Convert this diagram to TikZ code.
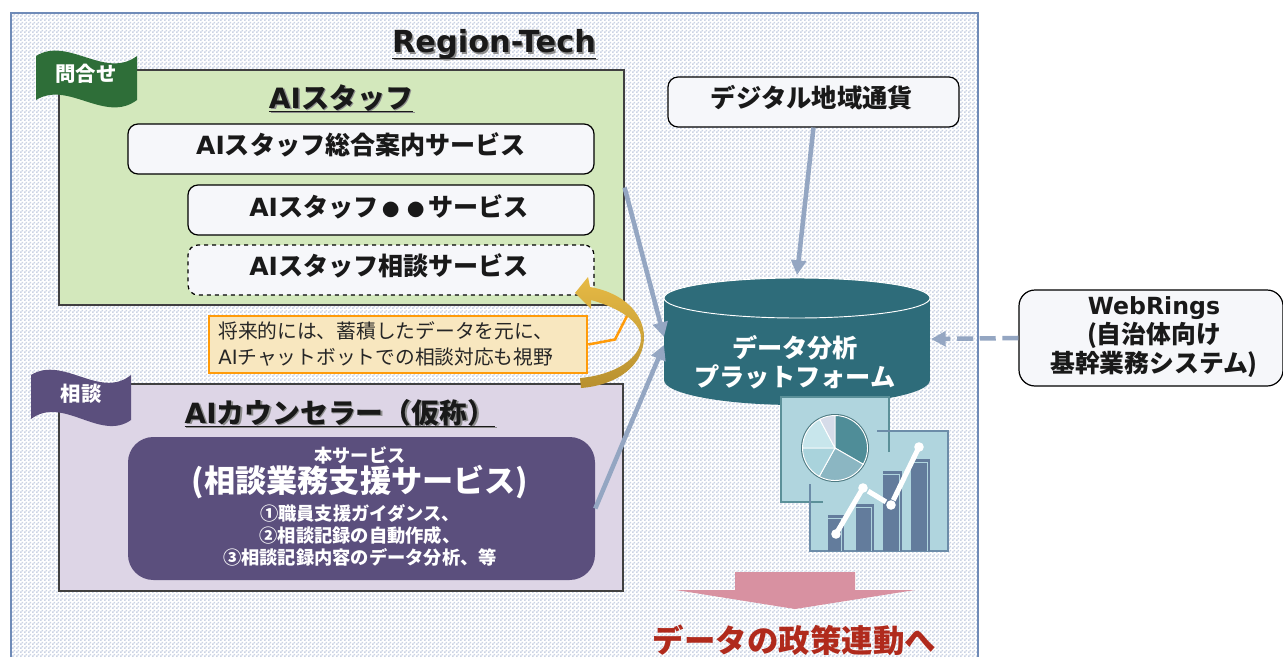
\documentclass[tikz,border=0pt]{standalone}
\usepackage{fontspec}
\setmainfont{Noto Sans CJK JP}
\newfontfamily\dv{DejaVu Sans}
\usetikzlibrary{fit,arrows.meta,patterns}
\newcommand\lt[1]{{\dv\bfseries #1}}
\newcommand\fs[1]{\fontsize{#1}{#1}\selectfont}
\newcommand\ul[1]{\underline{\raisebox{0pt}[\height][0.6pt]{#1}}}
\newcommand\smallbullet{\makebox[1em]{\fs{13}●}}
\definecolor{chk}{HTML}{CBD3E4}
\definecolor{outerl}{HTML}{6F8BB8}
\definecolor{greenbg}{HTML}{D3E8BC}
\definecolor{greenfl}{HTML}{2E6E38}
\definecolor{purpbg}{HTML}{DDD5E6}
\definecolor{purpdk}{HTML}{5B4F7D}
\definecolor{boxw}{HTML}{F6F7FA}
\definecolor{conn}{HTML}{94A6C2}
\definecolor{tealc}{HTML}{2E6C7A}
\definecolor{orng}{HTML}{FF9B0A}
\definecolor{calloutbg}{HTML}{F8E7BF}
\definecolor{panel}{HTML}{B0D5DE}
\definecolor{pborder}{HTML}{5B9099}
\definecolor{bborder}{HTML}{6C8CA8}
\definecolor{bar}{HTML}{637C9C}
\definecolor{pinkar}{HTML}{D891A1}
\definecolor{redt}{HTML}{B02A1C}
\definecolor{goldt}{HTML}{E6BA45}
\definecolor{goldb}{HTML}{B8902F}
\pgfdeclarepatternformonly{chkr}{\pgfpointorigin}{\pgfqpoint{3pt}{3pt}}{\pgfqpoint{3pt}{3pt}}{%
  \pgfpathrectangle{\pgfpointorigin}{\pgfqpoint{1.5pt}{1.5pt}}%
  \pgfpathrectangle{\pgfqpoint{1.5pt}{1.5pt}}{\pgfqpoint{1.5pt}{1.5pt}}%
  \pgfusepath{fill}}
\tikzset{
  wbox/.style={draw=black,line width=.9pt,fill=boxw,rounded corners=7.5pt,inner sep=0pt},
  panelbox/.style={draw=black!75,line width=.9pt,inner sep=0pt},
  txt/.style={inner sep=0pt,font=\bfseries\fs{#1},text=black!90,align=center},
  txt/.default=18.8,
  wtxt/.style={inner sep=0pt,font=\bfseries\fs{#1},text=white,align=center},
  shd/.style={text=black!45,xshift=1.2pt,yshift=-1.2pt},
  linkar/.style={draw=conn,line width=3.4pt,-{Triangle[length=11pt,width=11pt]}},
}
\begin{document}
\begin{tikzpicture}[x=.75pt,y=-.75pt]
\clip (0,0) rectangle (1283,657);
\fill[white] (0,0) rectangle (1283,657);
% outer
\fill[pattern=chkr,pattern color=chk] (11,13) rectangle (978,670);
\draw[outerl,line width=1.1pt] (11,13) rectangle (978,670);
\node[txt=22.8,shd] at (494,44) {\underline{\raisebox{0pt}[\height][2.6pt]{\lt{Region-Tech}}}};
\node[txt=22.8] (title) at (494,44) {\underline{\raisebox{0pt}[\height][2.6pt]{\lt{Region-Tech}}}};
% green panel
\node[panelbox,fill=greenbg,fit={(59,70) (624,305)}] (green) {};
\fill[greenfl] (36,56) .. controls (68,36) and (105,80) .. (137,56) -- (137,100) .. controls (105,124) and (68,80) .. (36,100) -- cycle;
\node[wtxt=15.3] (fl1) at (86,74) {問合せ};
\node[txt=21,shd] at (341,98) {\ul{\lt{AI}スタッフ}};
\node[txt=21] (t1) at (341,98) {\ul{\lt{AI}スタッフ}};
\node[wbox,fit={(128,124) (594,174)}] (b1) {};
\node[txt] at (361,145) {\lt{AI}スタッフ総合案内サービス};
\node[wbox,fit={(188,185) (594,235)}] (b2) {};
\node[txt] at (389,207) {\lt{AI}スタッフ\smallbullet\smallbullet サービス};
\node[wbox,dashed,fit={(188,245) (594,295)}] (b3) {};
\node[txt] at (389,266) {\lt{AI}スタッフ相談サービス};
% purple panel
\node[panelbox,fill=purpbg,fit={(59,384) (623,591)}] (purple) {};
\fill[purpdk] (31,375) .. controls (63,355) and (100,400) .. (131,375) -- (131,420) .. controls (100,442) and (63,395) .. (31,419) -- cycle;
\node[wtxt=15.3] (fl2) at (81,394) {相談};
\node[txt=20.9,shd] at (340,413) {\ul{\lt{AI}カウンセラー（仮称）}};
\node[txt=20.9] (t2) at (340,413) {\ul{\lt{AI}カウンセラー（仮称）}};
\node[draw=none,fill=purpdk,rounded corners=19pt,inner sep=0pt,fit={(128,437) (595,580)}] (dark) {};
\node[wtxt=13.6] at (360,455) {本サービス};
\node[wtxt=23.4] at (360,482) {(相談業務支援サービス)};
\node[wtxt=13.7,font=\bfseries\fontsize{13.7}{16.5}\selectfont] at (360,535) {①職員支援ガイダンス、\\②相談記録の自動作成、\\③相談記録内容のデータ分析、等};
% digital + webrings
\node[wbox,fit={(668,77) (959,127)}] (digi) {};
\node[txt=19] at (812,98) {デジタル地域通貨};
\node[wbox,fit={(1019,290) (1283,386)},rounded corners=12pt] (web) {};
\node[txt=18.6,font=\bfseries\fontsize{18.6}{22}\selectfont] at (1154,337) {{\dv\bfseries\fontsize{17.7}{22}\selectfont WebRings}\\(自治体向け\\基幹業務システム)};
% cylinder
\fill[tealc] (664,298) rectangle (930,380);
\fill[tealc] (797,380) ellipse [x radius=133,y radius=25];
\fill[tealc] (797,298) ellipse [x radius=133,y radius=20];
\draw[white,line width=.7pt] (797,298) ellipse [x radius=133,y radius=20];
\node[inner sep=0pt,fit={(664,278) (930,405)}] (cyl) {};
\node[wtxt=18.9,font=\bfseries\fontsize{18.9}{22}\selectfont] at (795,362) {データ分析\\プラットフォーム};
\coordinate (c1) at (664,337);
\coordinate (c2) at (664,345);
\coordinate (c3) at (797,275);
\coordinate (c4) at (931,339);
\draw[linkar] (green.east) -- (c1);
\draw[linkar] (dark.east) -- (c2);
\draw[linkar] (digi.south) -- (c3);
\draw[linkar,dash pattern=on 12pt off 5pt] (web.west) -- (c4);
% callout
\node[draw=orng,line width=2pt,fill=calloutbg,inner sep=0pt,fit={(209,316) (587,373)}] (call) {};
\node[inner sep=0pt,align=left,anchor=west,font=\fontsize{14.8}{19}\selectfont,text=black!85] at (218,344) {将来的には、蓄積したデータを元に、\\{\dv AI}チャットボットでの相談対応も視野};
\coordinate (lead) at (628,314);
\draw[orng,line width=1.9pt] (call.east) -- (615,339.5) -- (lead);
% gold arrow
\shade[top color=goldt,bottom color=goldb] (590,287) .. controls (625,293) and (644,315) .. (644,337) .. controls (644,365) and (618,385) .. (581,388) -- (580,378) .. controls (615,375) and (642,358) .. (641,337) .. controls (640,322) and (620,308) .. (591,300) -- (591,309) -- (575,293) -- (588,277) -- cycle;
% chart
\fill[panel] (781,397) rectangle (889,502);
\fill[panel] (810,431) rectangle (948,551);
\draw[pborder,line width=1.9pt] (889,452) -- (889,397) -- (781,397) -- (781,502) -- (823,502);
\draw[bborder,line width=1.9pt] (877,431) -- (948,431) -- (948,551) -- (810,551) -- (810,484);
\begin{scope}[shift={(835,448)},x=.75pt,y=.75pt]
  \fill[pborder!85!black] (0,0) circle (34);
  \foreach \a/\b/\c in {-30/90/4F8D98,-119/-30/8BB6C2,-180/-119/A9D3DC,118/180/C8E6EC,90/118/D6DCE9}{
    \definecolor{sl}{HTML}{\c}
    \filldraw[fill=sl,draw=white,line width=.7pt] (0,0) -- (\a:32.5) arc[start angle=\a,end angle=\b,radius=32.5] -- cycle;
  }
\end{scope}
\foreach \xa/\xb/\yt in {828/844/515,856/874/504,883/902/471,911/930/459}{
  \fill[bar] (\xa,\yt) rectangle (\xb,551);
  \draw[panel,line width=.7pt] (\xa,\yt+3) -- (\xb-3,\yt+3) -- (\xb-3,551);
}
\coordinate (p1) at (836,534);
\coordinate (p2) at (863,488);
\coordinate (p3) at (891,505);
\coordinate (p4) at (919,447);
\draw[white,line width=3.8pt,shorten <=2pt,shorten >=2.5pt] (p1) -- (p2);
\draw[white,line width=3.8pt,shorten <=4.5pt,shorten >=4.5pt] (p2) -- (p3);
\draw[white,line width=3.8pt,shorten <=4pt,shorten >=2.5pt] (p3) -- (p4);
\foreach \p in {p1,p2,p3,p4}{\fill[white] (\p) circle (4.8);}
% bottom arrow
\fill[pinkar] (735,572) -- (855,572) -- (855,590) -- (915,590) -- (795,609) -- (676,590) -- (735,590) -- cycle;
\node[inner sep=0pt,font=\bfseries\fs{23.6},text=redt] (policy) at (794.5,640) {データの政策連動へ};
\end{tikzpicture}
\end{document}
